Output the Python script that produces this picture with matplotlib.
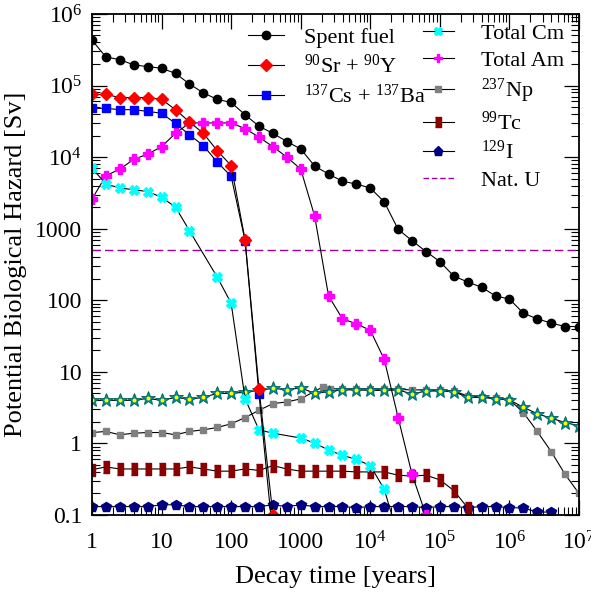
import matplotlib.pyplot as plt
import numpy as np
from matplotlib.ticker import FixedLocator, FixedFormatter, LogLocator, NullFormatter

plt.rcParams['font.family'] = 'Liberation Serif'
plt.rcParams['mathtext.fontset'] = 'custom'
plt.rcParams['mathtext.rm'] = 'Liberation Serif'
plt.rcParams['mathtext.it'] = 'Liberation Serif:italic'

# decay times (years), 5 points per decade
years = [1, 1.585, 2.512, 3.981, 6.31, 10, 15.85, 25.12, 39.81, 63.1,
         100, 158.5, 251.2, 398.1, 631, 1e3, 1.585e3, 2.512e3, 3.981e3, 6.31e3,
         1e4, 1.585e4, 2.512e4, 3.981e4, 6.31e4, 1e5, 1.585e5, 2.512e5, 3.981e5, 6.31e5,
         1e6, 1.585e6, 2.512e6, 3.981e6, 6.31e6, 1e7]

spent_fuel = [4.3e5, 2.5e5, 2.3e5, 1.94e5, 1.84e5, 1.74e5, 1.48e5, 1.05e5, 7.9e4, 6.4e4,
              5.8e4, 3.9e4, 2.7e4, 2.15e4, 1.65e4, 1.3e4, 7.5e3, 5.8e3, 4.6e3, 4.2e3,
              3.7e3, 2.37e3, 980, 680, 480, 347, 218, 180, 152, 115,
              104, 66, 55, 48, 43, 43]

sr90 = [7.5e4, 7.5e4, 6.8e4, 6.8e4, 6.8e4, 6.4e4, 4.6e4, 3.1e4, 2.15e4, 1.23e4,
        7.6e3, 700, 5.8, 0.1]

cs137 = [4.8e4, 4.8e4, 4.6e4, 4.6e4, 4.35e4, 4.1e4, 2.95e4, 2.05e4, 1.45e4, 8.5e3,
         5.4e3, 680, 4.9, 0.05]

cm_years = [1, 1.585, 2.512, 3.981, 6.31, 10, 15.85, 25.12, 63.1, 100, 158.5, 251.2,
            398.1, 1e3, 1.585e3, 2.512e3, 3.981e3, 6.31e3, 1e4, 1.585e4, 2.512e4]
total_cm = [7.0e3, 4.2e3, 3.7e3, 3.5e3, 3.3e3, 2.75e3, 2.0e3, 940, 210, 91, 4.2, 1.55,
            1.39, 1.19, 1.01, 0.81, 0.68, 0.60, 0.49, 0.23, 0.05]

total_am = [2.6e3, 5.5e3, 6.8e3, 9.3e3, 1.1e4, 1.4e4, 2.15e4, 3.0e4, 3.0e4, 3.0e4,
            3.0e4, 2.5e4, 1.9e4, 1.4e4, 1.0e4, 6.8e3, 1.5e3, 115, 55, 47,
            38, 15, 2.3, 0.37, 0.1]

np_years = [1, 1.585, 2.512, 3.981, 6.31, 10, 15.85, 25.12, 39.81, 63.1,
            100, 158.5, 251.2, 398.1, 631, 1e3, 2.1e3, 2.6e3, 3.981e3, 6.31e3,
            1e4, 1.585e4, 2.512e4, 3.981e4, 6.31e4, 1e5, 1.585e5, 2.512e5, 3.981e5, 6.31e5,
            1e6, 1.585e6, 2.512e6, 3.981e6, 6.31e6, 1e7]
np237 = [1.42, 1.47, 1.32, 1.39, 1.42, 1.42, 1.32, 1.47, 1.55, 1.67,
         1.88, 2.3, 2.9, 3.6, 3.8, 4.2, 6.2, 5.8, 5.8, 5.8,
         5.8, 5.7, 5.7, 5.6, 5.6, 5.5, 5.4, 4.6, 4.5, 4.3,
         4.1, 2.7, 1.47, 0.77, 0.37, 0.2]

stars = [4.0, 4.0, 4.0, 4.0, 4.25, 4.0, 4.4, 4.15, 4.4, 5.0,
         5.0, 5.2, 5.5, 5.9, 5.6, 6.0, 5.0, 5.3, 5.6, 5.6,
         5.5, 5.5, 5.6, 4.9, 5.4, 5.4, 5.3, 4.4, 4.4, 4.2,
         4.05, 3.2, 2.6, 2.25, 1.96, 1.76]

tc99 = [0.43, 0.47, 0.44, 0.44, 0.44, 0.44, 0.44, 0.47, 0.44, 0.41,
        0.41, 0.44, 0.42, 0.49, 0.44, 0.41, 0.41, 0.41, 0.41, 0.40,
        0.40, 0.40, 0.36, 0.35, 0.36, 0.31, 0.22, 0.126, 0.06]

i129 = [0.131, 0.131, 0.131, 0.131, 0.131, 0.139, 0.139, 0.131, 0.131, 0.131,
        0.131, 0.131, 0.131, 0.139, 0.131, 0.139, 0.131, 0.131, 0.131, 0.127,
        0.131, 0.131, 0.131, 0.131, 0.127, 0.131, 0.131, 0.127, 0.131, 0.131,
        0.127, 0.125, 0.11, 0.11]

nat_u = 500

fig = plt.figure(figsize=(5.91, 5.93), dpi=100)
ax = fig.add_axes([0.1557, 0.1315, 0.824, 0.845])

lw = 0.8
ax.axhline(nat_u, color='#a000a0', lw=1.0, ls=(0, (6, 3)))
ax.plot(years[:len(i129)], i129, '-', color='k', lw=lw, marker='p', ms=7,
        mfc='#000080', mec='#000080')
rect = [(-0.55, -1), (0.55, -1), (0.55, 1), (-0.55, 1)]
ax.plot(years[:len(tc99)], tc99, '-', color='k', lw=lw, marker=rect, ms=8,
        mfc='#8b0000', mec='#8b0000')
ax.plot(np_years, np237, '-', color='k', lw=lw, marker='s', ms=4.5,
        mfc='#808080', mec='#808080')
ax.plot(years, stars, '-', color='k', lw=lw, marker='*', ms=10,
        mfc='#009090', mec='#006060', mew=0.6)
ax.plot(years, stars, ls='none', marker='o', ms=1.8, mfc='yellow', mec='yellow')
ax.plot(years[:len(total_am)], total_am, '-', color='k', lw=lw, marker='P', ms=7,
        mfc='#ff00ff', mec='#ff00ff')
ax.plot(cm_years, total_cm, '-', color='k', lw=lw, marker='X', ms=7,
        mfc='#00ffff', mec='#00ffff')
ax.plot(years[:len(cs137)], cs137, '-', color='k', lw=lw, marker='s', ms=6,
        mfc='#0000ff', mec='#0000ff')
ax.plot(years[:len(sr90)], sr90, '-', color='k', lw=lw, marker='D', ms=6.5,
        mfc='#ff0000', mec='#ff0000')
ax.plot(years, spent_fuel, '-', color='k', lw=lw, marker='o', ms=6,
        mfc='k', mec='k')

ax.set_xscale('log')
ax.set_yscale('log')
ax.set_xlim(1, 1e7)
ax.set_ylim(0.1, 1e6)

xlabels = ['1', '10', '100', '1000', r'$10^4$', r'$10^5$', r'$10^6$', r'$10^7$']
ylabels = ['0.1', '1', '10', '100', '1000', r'$10^4$', r'$10^5$', r'$10^6$']
ax.xaxis.set_major_locator(FixedLocator([1, 10, 100, 1e3, 1e4, 1e5, 1e6, 1e7]))
ax.xaxis.set_major_formatter(FixedFormatter(xlabels))
ax.yaxis.set_major_locator(FixedLocator([0.1, 1, 10, 100, 1e3, 1e4, 1e5, 1e6]))
ax.yaxis.set_major_formatter(FixedFormatter(ylabels))
ax.xaxis.set_minor_locator(LogLocator(base=10, subs=range(2, 10), numticks=20))
ax.yaxis.set_minor_locator(LogLocator(base=10, subs=range(2, 10), numticks=20))
ax.xaxis.set_minor_formatter(NullFormatter())
ax.yaxis.set_minor_formatter(NullFormatter())

ax.tick_params(which='both', direction='in', top=True, right=True, labelsize=17)
ax.tick_params(which='major', length=11, width=0.9)
ax.tick_params(which='minor', length=5.5, width=0.8)
ax.tick_params(axis='x', which='major', pad=12)
ax.tick_params(axis='y', which='major', pad=7)
for s in ax.spines.values():
    s.set_linewidth(1.3)

ax.set_xlabel('Decay time [years]', fontsize=19, labelpad=8)
ax.set_ylabel('Potential Biological Hazard [Sv]', fontsize=19, labelpad=6)

# legends built from proxy handles
def h(marker, color, ms, ls='-'):
    return plt.Line2D([], [], color='k', lw=lw, marker=marker, ms=ms, mfc=color, mec=color, ls=ls)

left_h = [h('o', 'k', 6), h('D', '#ff0000', 6.5), h('s', '#0000ff', 6)]
left_l = ['Spent fuel', r'$^{90}$Sr + $^{90}$Y', r'$^{137}$Cs + $^{137}$Ba']
leg1 = ax.legend(left_h, left_l, loc='upper left', bbox_to_anchor=(0.293, 1.0),
                 frameon=False, fontsize=16, handlelength=1.6, handletextpad=0.9,
                 labelspacing=0.31, borderaxespad=0.2)
ax.add_artist(leg1)

right_h = [h('X', '#00ffff', 6), h('P', '#ff00ff', 6), h('s', '#808080', 4),
           h(rect, '#8b0000', 7), h('p', '#000080', 6.5),
           plt.Line2D([], [], color='#a000a0', lw=1.0, ls=(0, (4, 2)))]
right_l = ['Total Cm', 'Total Am', r'$^{237}$Np', r'$^{99}$Tc', r'$^{129}$I', 'Nat. U']
ax.legend(right_h, right_l, loc='upper left', bbox_to_anchor=(0.652, 1.008),
          frameon=False, fontsize=16, handlelength=1.4, handletextpad=1.2,
          labelspacing=0.28, borderaxespad=0.2)

fig.savefig('out.png', dpi=100)
